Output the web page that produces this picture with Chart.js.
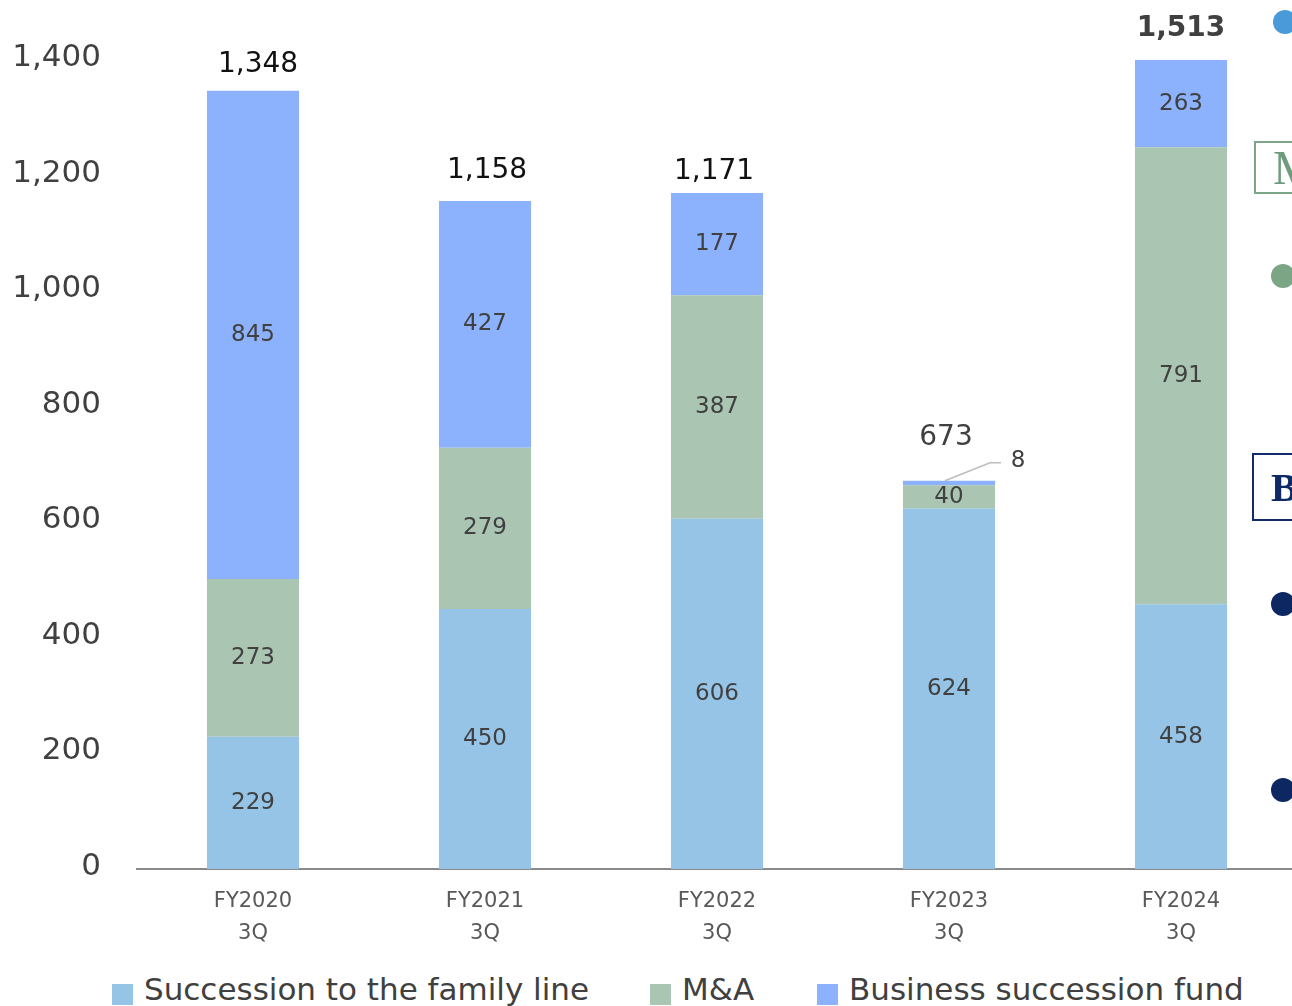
<!DOCTYPE html>
<html>
<head>
<meta charset="utf-8">
<script src="https://cdn.jsdelivr.net/npm/chart.js@4.4.1/dist/chart.umd.min.js"></script>
<style>
  html, body { margin: 0; padding: 0; background: #fff; overflow: hidden; }
  #wrap { position: relative; width: 1292px; height: 1006px; overflow: hidden; font-family: 'DejaVu Sans', sans-serif; }
  #chart { position: absolute; left: 0; top: 0; }
  .legend-text { position: absolute; top: 974px; font-size: 31px; line-height: 31px; color: #404040; white-space: nowrap; }
  .legend-box { position: absolute; top: 984px; width: 21px; height: 21px; }
  .dot { position: absolute; width: 24px; height: 24px; border-radius: 50%; }
  .tag { position: absolute; box-sizing: border-box; overflow: hidden; font-family: 'Liberation Serif', 'DejaVu Serif', serif; }
</style>
</head>
<body>
<div id="wrap">
  <canvas id="chart" width="1297" height="960"></canvas>
  <div id="legend"></div>
  <!-- side panel edge -->
  <div class="dot" style="left:1273px; top:10px; background:#4a9ad9;"></div>
  <div class="tag" style="left:1254px; top:141px; width:60px; height:53px; border:2px solid #7da688; color:#6f9c7d; font-size:48px; line-height:50px; padding-left:17px;">M</div>
  <div class="dot" style="left:1271px; top:264px; background:#7ba585;"></div>
  <div class="tag" style="left:1252px; top:453px; width:60px; height:68px; border:2px solid #102c6c; color:#0e2a66; font-size:40px; font-weight:bold; line-height:66px; padding-left:17px;">B</div>
  <div class="dot" style="left:1271px; top:592px; background:#0c2762;"></div>
  <div class="dot" style="left:1271px; top:778px; background:#0c2762;"></div>
</div>
<script>
const fiscalYears = ['FY2020', 'FY2021', 'FY2022', 'FY2023', 'FY2024'];
const quarter = '3Q';
const seriesNames = ['Succession to the family line', 'M&A', 'Business succession fund'];
const familyLine = [229, 450, 606, 624, 458];
const mergers = [273, 279, 387, 40, 791];
const successionFund = [845, 427, 177, 8, 263];
const totals = [1348, 1158, 1171, 673, 1513];
const yTicks = [0, 200, 400, 600, 800, 1000, 1200, 1400];

const colors = ['#95c4e6', '#aac5b2', '#8cb1fd'];
const FONT = "'DejaVu Sans', sans-serif";

// total label placement tweaks [dx, dy from stack top], colour, weight
const totalNudge = [[5, -26], [2, -30], [-3, -21], [-3, -43], [0, -31]];
const totalColor = ['#111', '#111', '#111', '#404040', '#404040'];
const totalBold = [false, false, false, false, true];

// legend
const legendX = [112, 650, 817];
const legend = document.getElementById('legend');
seriesNames.forEach((name, i) => {
    const box = document.createElement('div');
    box.className = 'legend-box';
    box.style.left = legendX[i] + 'px';
    box.style.background = colors[i];
    legend.appendChild(box);
    const txt = document.createElement('div');
    txt.className = 'legend-text';
    txt.style.left = (legendX[i] + 32) + 'px';
    txt.textContent = name;
    legend.appendChild(txt);
});

const barLabels = {
    id: 'barLabels',
    afterDatasetsDraw(chart) {
        const { ctx, chartArea } = chart;
        ctx.save();
        ctx.textAlign = 'center';
        ctx.textBaseline = 'middle';
        chart.data.datasets.forEach((ds, di) => {
            const meta = chart.getDatasetMeta(di);
            meta.data.forEach((bar, i) => {
                const v = ds.data[i];
                const top = Math.max(bar.y, chartArea.top);
                ctx.fillStyle = '#404040';
                ctx.font = '23px ' + FONT;
                if (di === 2 && i === 3) {
                    // thin slice: call-out to the right
                    ctx.strokeStyle = '#bdbdbd';
                    ctx.lineWidth = 1.5;
                    ctx.beginPath();
                    ctx.moveTo(bar.x - 4, bar.y);
                    ctx.lineTo(bar.x + 41, bar.y - 18);
                    ctx.lineTo(bar.x + 52, bar.y - 18);
                    ctx.stroke();
                    ctx.fillText(String(v), bar.x + 69, bar.y - 20);
                } else {
                    ctx.fillText(String(v), bar.x, (top + bar.base) / 2);
                }
            });
        });
        const topMeta = chart.getDatasetMeta(chart.data.datasets.length - 1);
        topMeta.data.forEach((bar, i) => {
            const top = Math.max(bar.y, chartArea.top);
            ctx.fillStyle = totalColor[i];
            ctx.font = (totalBold[i] ? 'bold ' : '') + '28px ' + FONT;
            ctx.fillText(totals[i].toLocaleString('en-US'), bar.x + totalNudge[i][0], top + totalNudge[i][1]);
        });
        ctx.restore();
    }
};

const datasets = [familyLine, mergers, successionFund].map((data, i) => ({
    label: seriesNames[i],
    data: data,
    backgroundColor: colors[i],
    borderWidth: 0,
    barPercentage: 0.397,
    categoryPercentage: 1
}));

new Chart(document.getElementById('chart').getContext('2d'), {
    type: 'bar',
    data: {
        labels: fiscalYears.map(fy => [fy, quarter]),
        datasets: datasets
    },
    options: {
        responsive: false,
        animation: false,
        devicePixelRatio: 1,
        layout: { padding: { top: 60, left: 0, right: 0, bottom: 0 } },
        plugins: {
            legend: { display: false },
            tooltip: { enabled: false }
        },
        scales: {
            x: {
                stacked: true,
                grid: { display: true, drawOnChartArea: false, drawTicks: false },
                border: { color: '#8a8a8a', width: 2 },
                ticks: { color: '#595959', font: { family: FONT, size: 21, lineHeight: 32 / 21 }, padding: 17, maxRotation: 0 },
                afterFit: scale => { scale.height = 91; }
            },
            y: {
                stacked: true,
                min: 0,
                max: 1400,
                grid: { display: false, drawTicks: false },
                border: { display: false },
                afterBuildTicks: scale => { scale.ticks = yTicks.map(v => ({ value: v })); },
                ticks: {
                    color: '#404040',
                    font: { family: FONT, size: 31 },
                    padding: 36,
                    labelOffset: -2,
                    callback: v => v.toLocaleString('en-US')
                },
                afterFit: scale => { scale.width = 137; }
            }
        }
    },
    plugins: [barLabels]
});
</script>
</body>
</html>
